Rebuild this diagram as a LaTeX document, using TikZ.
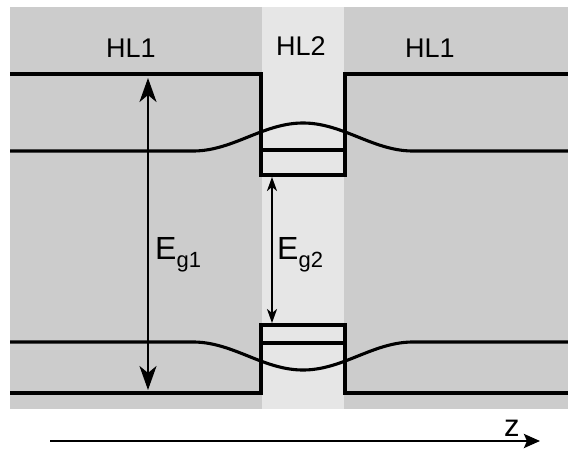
\documentclass[tikz,border=0pt]{standalone}
\usepackage{fontspec}
\setmainfont{Liberation Sans}
\usetikzlibrary{arrows.meta}
\definecolor{barrier}{HTML}{CCCCCC}
\definecolor{well}{HTML}{E6E6E6}
\tikzset{
  band/.style={line width=3.1pt, line join=miter},
  bigarrow/.style={line width=2.8pt, {Stealth[length=24pt,width=17pt,inset=7pt]}-{Stealth[length=24pt,width=17pt,inset=7pt]}},
  smallarrow/.style={line width=2.2pt, {Stealth[length=14pt,width=10pt,inset=4pt]}-{Stealth[length=14pt,width=10pt,inset=4pt]}},
  axisarrow/.style={line width=2.8pt, -{Stealth[length=16pt,width=14pt,inset=3pt]}},
  layerlabel/.style={anchor=base, font=\fontsize{27}{30}\selectfont},
  gaplabel/.style={anchor=base west, inner sep=0pt, font=\fontsize{32}{34}\selectfont},
}
\newcommand{\gapsub}[1]{\raisebox{-8pt}{\fontsize{22}{24}\selectfont #1}}
\begin{document}
\begin{tikzpicture}[x=1pt,y=-1pt]
\useasboundingbox (0,0) rectangle (568,450);
% layers
\fill[barrier] (10,7) rectangle (568,409);
\fill[well] (262,7) rectangle (344,409);
% conduction band edge (barrier + well)
\draw[band] (10,74) -- (261,74) -- (261,175) -- (345,175) -- (345,74) -- (568,74);
\draw[band] (261,150) -- (345,150);
\draw[band] (10,151) -- (193,151)
  plot[domain=193:413, samples=80, smooth] (\x,{151-14*(1+cos(1.63636*(\x-303)))})
  -- (568,151);
% valence band edge
\draw[band] (10,393) -- (261,393) -- (261,325) -- (345,325) -- (345,393) -- (568,393);
\draw[band] (261,343) -- (345,343);
\draw[band] (10,342) -- (193,342)
  plot[domain=193:413, samples=80, smooth] (\x,{342+14*(1+cos(1.63636*(\x-303)))})
  -- (568,342);
% gap arrows
\coordinate (g1top) at (148,78);
\coordinate (g1bot) at (148,390);
\coordinate (g2top) at (272,177);
\coordinate (g2bot) at (272,323);
\draw[bigarrow] (g1top) -- (g1bot);
\draw[smallarrow] (g2top) -- (g2bot);
% labels
\node[layerlabel] (hl1a) at (131,57) {HL1};
\node[layerlabel] (hl2) at (301,55) {HL2};
\node[layerlabel] (hl1b) at (430,57) {HL1};
\node[gaplabel] (eg1) at (155,259) {E\gapsub{g1}};
\node[gaplabel] (eg2) at (277,259) {E\gapsub{g2}};
% z axis
\coordinate (zstart) at (50,441);
\coordinate (zend) at (540,441);
\draw[axisarrow] (zstart) -- (zend);
\node[anchor=base west, inner sep=0pt, font=\fontsize{31}{33}\selectfont] (zlabel) at (504,436) {z};
\end{tikzpicture}
\end{document}
